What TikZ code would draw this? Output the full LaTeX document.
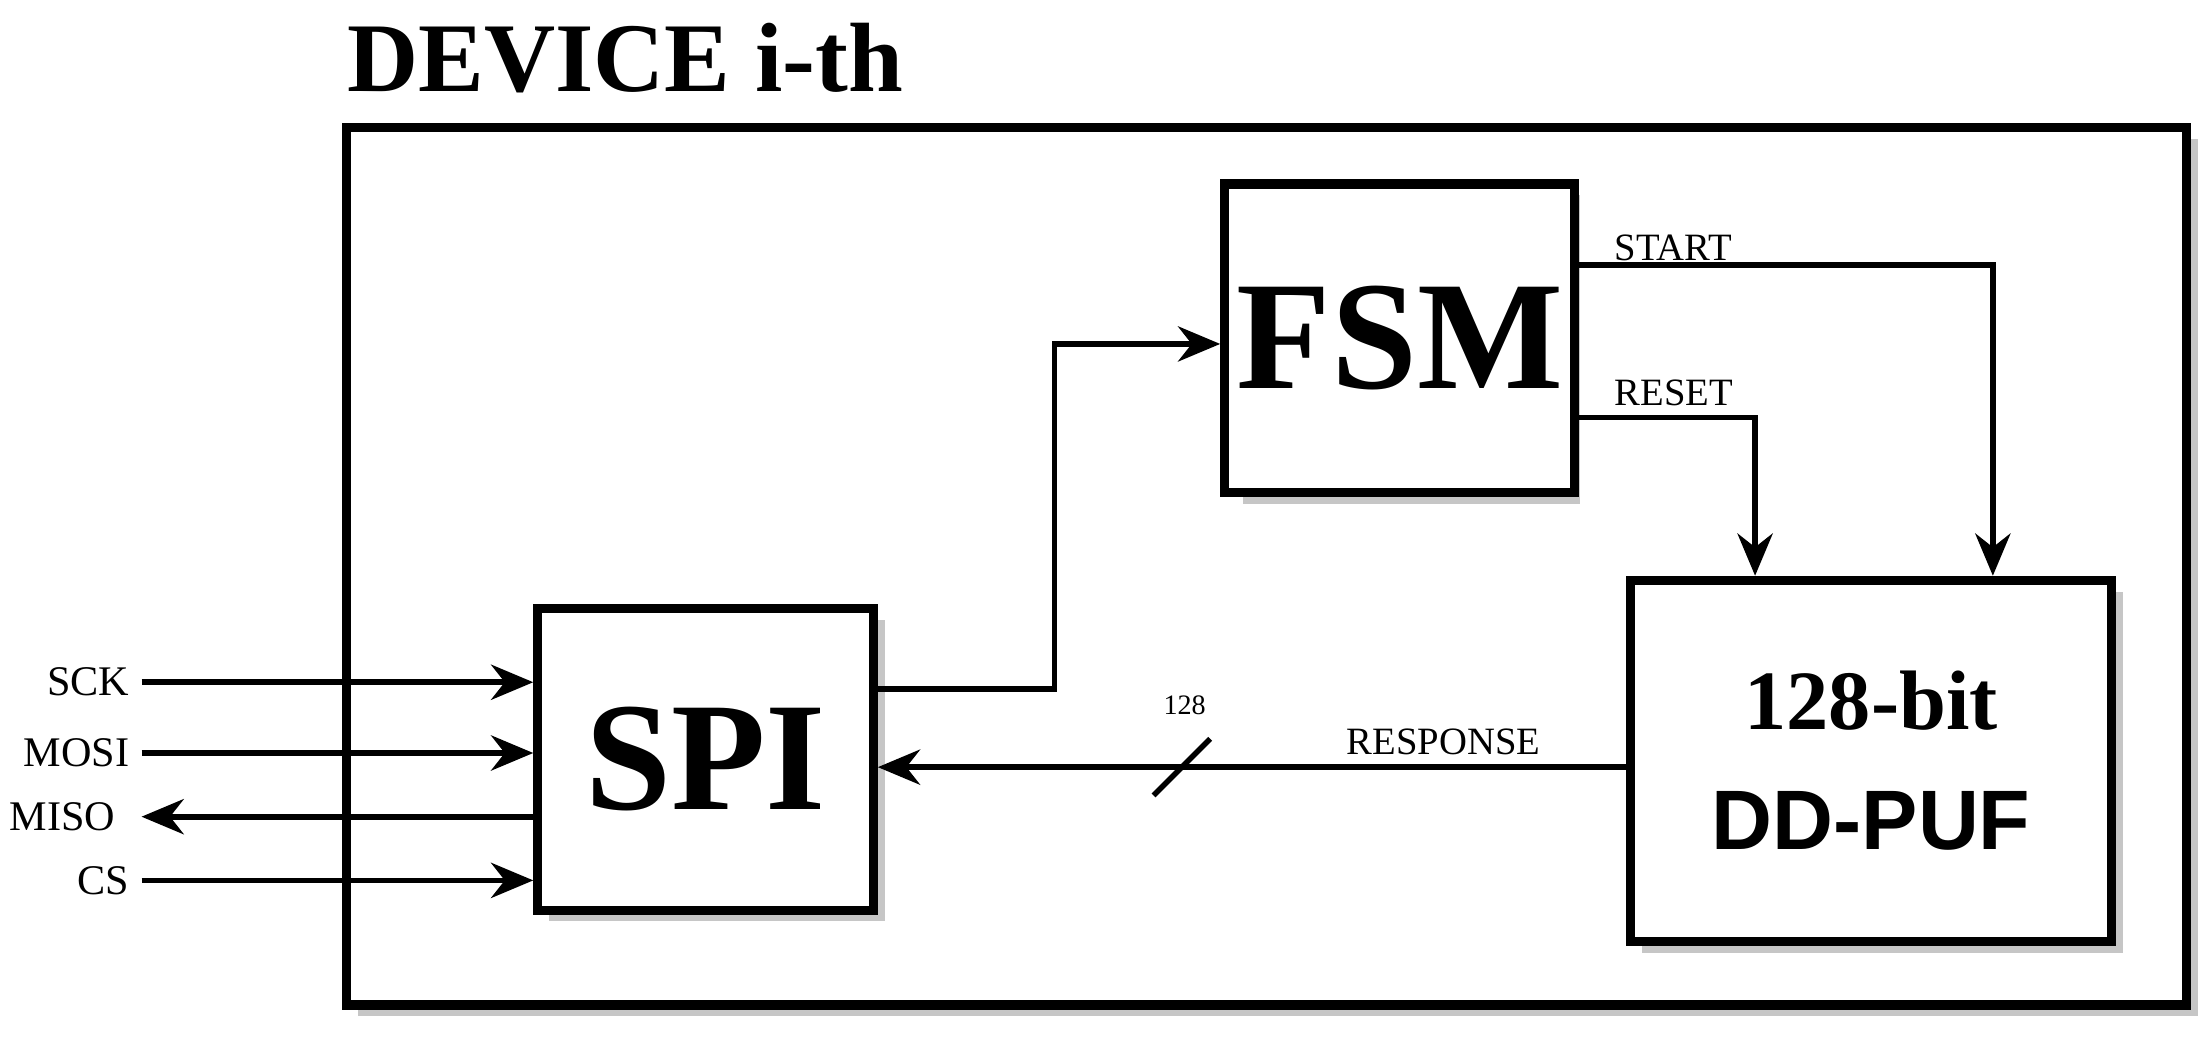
\documentclass[tikz,border=0pt]{standalone}
\usepackage{fontspec}
\setmainfont{Liberation Serif}
\newfontfamily\sansbold{Liberation Sans}
\usetikzlibrary{positioning}
\usetikzlibrary{arrows.meta}
\begin{document}
\begin{tikzpicture}[x=0.01415cm, y=-0.01415cm,
    blk/.style={draw, line width=2.6pt, fill=white},
    sig/.style={line width=1.6pt, -{Stealth[length=12pt,width=10pt]}},
    lbl/.style={font=\fontsize{11}{12}\selectfont, inner sep=1pt}]
        \useasboundingbox (0,0) rectangle (1560,735);
        \node[anchor=south west, inner sep=0pt, font=\bfseries\fontsize{28}{30}\selectfont] (title) at (245,66) {DEVICE i-th};
        % shadows
        \fill[gray!45] (253,98) rectangle (1553,718);
        \draw[blk] (245,90) rectangle (1545,710);
        \fill[gray!45] (878,138) rectangle (1116,356);
        \fill[gray!45] (388,438) rectangle (625,651);
        \fill[gray!45] (1160,418) rectangle (1500,673);
        \node[blk, minimum width=238*0.01415cm, minimum height=218*0.01415cm, font=\bfseries\fontsize{44}{46}\selectfont] (fsm) at (989,239) {FSM};
        \node[blk, minimum width=237*0.01415cm, minimum height=213*0.01415cm, font=\bfseries\fontsize{44}{46}\selectfont] (spi) at (498.5,536.5) {SPI};
        \node[blk, minimum width=340*0.01415cm, minimum height=255*0.01415cm, align=center, font=\bfseries\fontsize{24}{34}\selectfont] (puf) at (1322,537.5) {128-bit\\{\sansbold\bfseries DD-PUF}};
        % external pins
        \foreach \nm/\yy in {sck/482, mosi/532, miso/577, cs/622}
            \coordinate (\nm) at (100,\yy);
        \node[anchor=east, font=\fontsize{12}{14}\selectfont] at (sck) {SCK};
        \node[anchor=east, font=\fontsize{12}{14}\selectfont] at (mosi) {MOSI};
        \node[anchor=east, font=\fontsize{12}{14}\selectfont, xshift=-4pt] at (miso) {MISO};
        \node[anchor=east, font=\fontsize{12}{14}\selectfont] at (cs) {CS};
        \draw[sig] (sck) -- (sck -| spi.west);
        \draw[sig] (mosi) -- (mosi -| spi.west);
        \draw[sig] (miso -| spi.west) -- (miso);
        \draw[sig] (cs) -- (cs -| spi.west);
        % internal signals
        \draw[sig] (spi.east |- 0,487) -- (745,487) -- (745,243) -- (fsm.west |- 0,243);
        \draw[sig] (fsm.east |- 0,187) -- (1408,187) -- (1408,0 |- puf.north);
        \node[lbl, anchor=south west] at (1138,187) {START};
        \draw[sig] (fsm.east |- 0,295) -- (1240,295) -- (1240,0 |- puf.north);
        \node[lbl, anchor=south west] at (1138,290) {RESET};
        \draw[sig] (puf.west |- 0,542) -- (spi.east |- 0,542);
        \draw[line width=1.6pt] (815,562) -- (855,522);
        \node[lbl, font=\fontsize{8}{9}\selectfont] at (837,498) {128};
        \node[lbl, anchor=south] at (1020,536) {RESPONSE};
    \end{tikzpicture}
\end{document}
